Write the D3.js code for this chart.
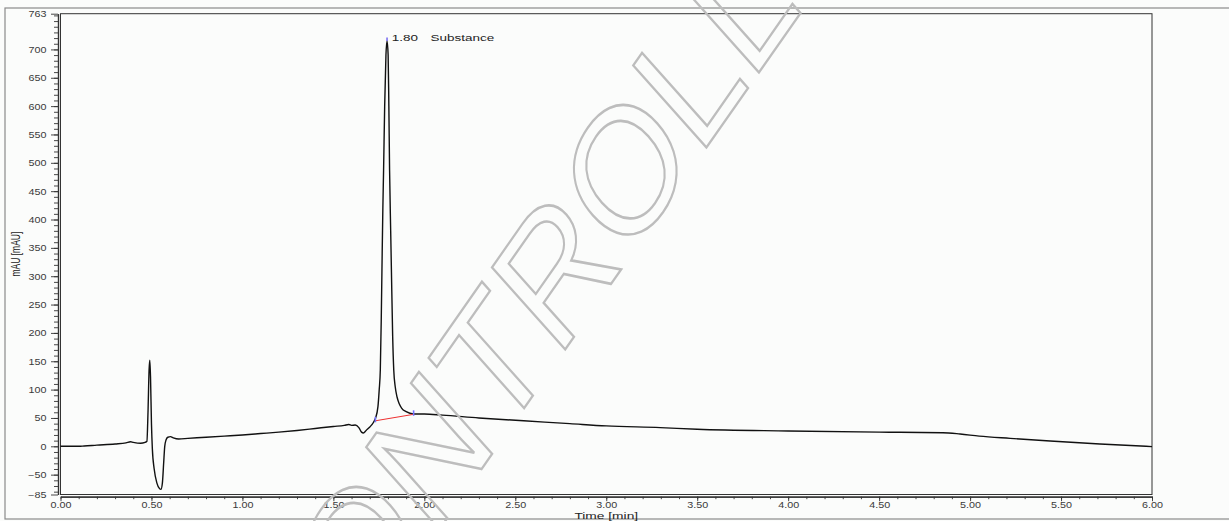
<!DOCTYPE html>
<html>
<head>
<meta charset="utf-8">
<script src="https://cdn.jsdelivr.net/npm/d3@7"></script>
<style>
  html, body { margin: 0; padding: 0; background: #fbfcfb; }
  svg { display: block; font-family: "Liberation Sans", Arial, sans-serif; }
</style>
</head>
<body>
<div id="chart"></div>
<script>
// chromatogram trace, time [min] / signal [mAU]
var times = [0.00, 0.10, 0.13, 0.20, 0.30, 0.36, 0.385, 0.40, 0.44, 0.465, 0.475,
	0.481, 0.487, 0.491, 0.495, 0.500, 0.505, 0.515, 0.530, 0.545, 0.552, 0.560,
	0.567, 0.573, 0.580, 0.590, 0.605, 0.620, 0.650, 0.700, 0.800, 0.900, 1.000,
	1.100, 1.200, 1.300, 1.400, 1.500, 1.560, 1.585, 1.600, 1.620, 1.640, 1.655,
	1.665, 1.680, 1.700, 1.720, 1.731, 1.745, 1.752, 1.758, 1.763, 1.767, 1.772,
	1.776, 1.782, 1.789, 1.795, 1.801, 1.805, 1.809, 1.815, 1.819, 1.826, 1.832,
	1.840, 1.850, 1.862, 1.876, 1.900, 1.940, 2.000, 2.100, 2.300, 2.546, 2.800,
	3.000, 3.297, 3.500, 4.000, 4.500, 4.615, 4.850, 4.945, 5.050, 5.220, 5.440,
	5.714, 6.000];
var mau = [0, 0, 0.5, 2, 4, 6, 8, 7, 5.5, 7, 9,
	60, 135, 152, 120, 40, -5, -40, -65, -75, -76, -65,
	-30, 0, 11, 16, 17, 15, 13, 14, 16, 18, 20,
	22.5, 25, 28, 31.5, 35, 37, 38.5, 37, 37.5, 33, 25,
	23.5, 28, 34, 42, 49, 70, 100, 135, 220, 311, 420,
	487, 600, 690, 715, 690, 600, 487, 380, 311, 193, 134,
	105, 87, 75, 67, 61, 57, 57, 55, 50, 45, 40,
	36, 33, 30, 27, 25, 24.7, 24, 21.7, 18, 14, 9.3,
	4, -0.5];

// integration marks
var peakTime = 1.795;
var peakTop = 715;
var peakLabel = "1.80";
var peakName = "Substance";
var baseStart = [1.731, 45];
var baseEnd = [1.941, 56.4];

// axis ticks
var yTicks = [-85, -50, 0, 50, 100, 150, 200, 250, 300, 350, 400, 450, 500, 550, 600, 650, 700, 763];
var xTicks = [0, 0.5, 1, 1.5, 2, 2.5, 3, 3.5, 4, 4.5, 5, 5.5, 6];

var width = 1229;
var height = 521;

var plot = {left: 60.5, right: 1152, top: 13.7, bottom: 494.5};
var textStretch = 1.3;

var svg = d3.select("#chart").append("svg")
	.attr("width", width)
	.attr("height", height);

var xScale = d3.scaleLinear()
	.domain([0, 6])
	.range([plot.left, plot.right]);

var yScale = d3.scaleLinear()
	.domain([-85, 763])
	.range([plot.bottom, plot.top]);

// outer frame
svg.append("rect")
	.attr("x", 5)
	.attr("y", 8)
	.attr("width", 1300)
	.attr("height", 511)
	.attr("fill", "none")
	.attr("stroke", "#8a8a8a")
	.attr("stroke-width", 1.2);

// plot box
svg.append("rect")
	.attr("x", plot.left)
	.attr("y", plot.top)
	.attr("width", plot.right - plot.left)
	.attr("height", plot.bottom - plot.top)
	.attr("fill", "none")
	.attr("stroke", "#333")
	.attr("stroke-width", 1);

// minor ticks first, then the labelled ones
var yMinor = d3.axisLeft(yScale)
	.tickValues(d3.range(-80, 761, 10))
	.tickSize(4)
	.tickSizeOuter(0)
	.tickFormat("");

var yMajor = d3.axisLeft(yScale)
	.tickValues(yTicks)
	.tickSize(7)
	.tickSizeOuter(0)
	.tickFormat(d3.format("d"));

var xMinor = d3.axisBottom(xScale)
	.tickValues(d3.range(0, 6.001, 0.1))
	.tickSize(2.5)
	.tickSizeOuter(0)
	.tickFormat("");

var xMajor = d3.axisBottom(xScale)
	.tickValues(xTicks)
	.tickSize(4.5)
	.tickSizeOuter(0)
	.tickFormat(d3.format(".2f"));

svg.append("g").attr("transform", "translate(58,0)").call(yMinor);
var yAxisG = svg.append("g").attr("transform", "translate(58,0)").call(yMajor);
svg.append("g").attr("transform", "translate(0,496.7)").call(xMinor);
var xAxisG = svg.append("g").attr("transform", "translate(0,496.7)").call(xMajor);

svg.selectAll(".domain").attr("stroke", "#333").attr("stroke-width", 1.2);
svg.selectAll(".tick line").attr("stroke", "#333").attr("stroke-width", 0.9);

yAxisG.selectAll("text")
	.attr("font-size", 8.3)
	.attr("fill", "#3a3a3a")
	.attr("x", -11.5 / textStretch)
	.attr("dy", "0.35em")
	.attr("transform", "scale(" + textStretch + ",1)");

xAxisG.selectAll("text")
	.attr("font-size", 8.3)
	.attr("fill", "#3a3a3a")
	.attr("y", 11.6)
	.attr("dy", 0)
	.attr("transform", "scale(" + textStretch + ",1)");

// axis titles
svg.append("text")
	.attr("transform", "translate(" + ((plot.left + plot.right) / 2) + ",518.5) scale(1.45,1)")
	.attr("text-anchor", "middle")
	.attr("font-size", 9.5)
	.attr("fill", "#222")
	.text("Time [min]");

svg.append("text")
	.attr("transform", "translate(20," + ((plot.top + plot.bottom) / 2) + ") scale(1.4,1) rotate(-90)")
	.attr("text-anchor", "middle")
	.attr("font-size", 8.5)
	.attr("fill", "#222")
	.text("mAU [mAU]");

// trace
var trace = times.map(function(t, i) { return {x: t, y: mau[i]}; });

var line = d3.line()
	.x(function(d) { return xScale(d.x); })
	.y(function(d) { return yScale(d.y); })
	.curve(d3.curveMonotoneX);

svg.append("path")
	.datum(trace)
	.attr("d", line)
	.attr("fill", "none")
	.attr("stroke", "#111")
	.attr("stroke-width", 1.4)
	.attr("stroke-linejoin", "round");

// integration baseline and markers
svg.append("line")
	.attr("x1", xScale(baseStart[0]))
	.attr("y1", yScale(baseStart[1]))
	.attr("x2", xScale(baseEnd[0]))
	.attr("y2", yScale(baseEnd[1]))
	.attr("stroke", "#ee3030")
	.attr("stroke-width", 1);

[baseStart, baseEnd].forEach(function(p) {
	svg.append("line")
		.attr("x1", xScale(p[0]))
		.attr("x2", xScale(p[0]))
		.attr("y1", yScale(p[1]) - 4)
		.attr("y2", yScale(p[1]) + 1.5)
		.attr("stroke", "#7272ff")
		.attr("stroke-width", 1.6);
});

svg.append("line")
	.attr("x1", xScale(peakTime))
	.attr("x2", xScale(peakTime))
	.attr("y1", yScale(peakTop) - 3.5)
	.attr("y2", yScale(peakTop))
	.attr("stroke", "#6a5cf0")
	.attr("stroke-width", 1.4);

svg.append("text")
	.attr("transform", "translate(" + (xScale(peakTime) + 4.8) + "," + (yScale(peakTop) + 0.5) + ") scale(1.45,1)")
	.attr("font-size", 9.3)
	.attr("fill", "#222")
	.text(peakLabel);

svg.append("text")
	.attr("transform", "translate(" + (xScale(peakTime) + 43.5) + "," + (yScale(peakTop) + 0.5) + ") scale(1.45,1)")
	.attr("font-size", 9.3)
	.attr("fill", "#222")
	.text(peakName);

// watermark
svg.append("text")
	.attr("transform", "translate(290.5,742.5) scale(0.79,1) rotate(-48.5)")
	.attr("font-size", 180)
	.attr("fill", "none")
	.attr("stroke", "#bdbdbd")
	.attr("stroke-width", 2.6)
	.text("CONTROLLED");
</script>
</body>
</html>
